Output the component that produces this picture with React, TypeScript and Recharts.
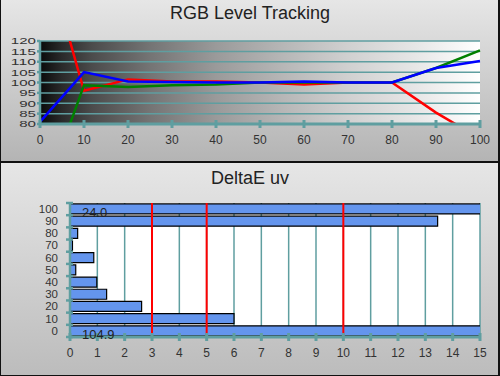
import React from 'react';
import {
  LineChart,
  Line,
  BarChart,
  Bar,
  XAxis,
  YAxis,
  CartesianGrid,
  ReferenceLine,
  LabelList,
} from 'recharts';

// stimulus levels (% of white)
const levels = [0, 10, 20, 30, 40, 50, 60, 70, 80, 90, 100];

// RGB tracking (%)
const redLevel = [171, 96, 101.5, 100.5, 100.5, 100, 99, 100, 100, 85.5, 73];
const greenLevel = [40, 98.7, 97.8, 98.7, 99, 100, 100, 100, 100, 107, 115.5];
const blueLevel = [81, 105, 100.5, 100.2, 100, 100, 100.5, 100, 100, 107, 110.4];

// DeltaE uv per level
const deltaE = [104.9, 6.0, 2.62, 1.34, 0.98, 0.21, 0.87, 0.09, 0.28, 13.45, 24.0];

const trackingTicks = [80, 85, 90, 95, 100, 105, 110, 115, 120];
const levelTicks = [0, 10, 20, 30, 40, 50, 60, 70, 80, 90, 100];
const deltaTicks = [0, 1, 2, 3, 4, 5, 6, 7, 8, 9, 10, 11, 12, 13, 14, 15];
const deltaLimits = [3, 5, 10];

const TEAL = '#5f9ea0';
const FONT = '"Liberation Sans", Arial, sans-serif';
const DELTA_MAX = 15;

const trackingData = levels.map((level, i) => ({
  level,
  red: redLevel[i],
  green: greenLevel[i],
  blue: blueLevel[i],
}));

const deltaData = levels.map((level, i) => ({
  level: String(level),
  de: deltaE[i],
}));

// bottom chart geometry (used for the band boundary ticks)
const BAR_H = 214;
const BAR_TOP = 41;
const BAR_BOTTOM = 39;
const BAND_HALF = (BAR_H - BAR_TOP - BAR_BOTTOM) / levels.length / 2;

// tick mark crossing the axis line + label under it
const StraddleTick = (props: any) => {
  const { x, y, payload } = props;
  return (
    <g>
      <line x1={x} y1={y - 4} x2={x} y2={y + 4} stroke={TEAL} strokeWidth={3} />
      <text x={x} y={y + 20} textAnchor="middle" fontSize={12} fill="#333" fontFamily={FONT}>
        {payload.value}
      </text>
    </g>
  );
};

// crowded percent labels, drawn wide like the original
const PercentTick = (props: any) => {
  const { x, y, payload } = props;
  const s = String(payload.value);
  return (
    <text
      x={x}
      y={y}
      dy="0.38em"
      textAnchor="end"
      fontSize={9}
      fill="#333"
      fontFamily={FONT}
      textLength={s.length * 8.4}
      lengthAdjust="spacingAndGlyphs"
    >
      {s}
    </text>
  );
};

// category label centred in band, tick marks on band boundaries
const BandTick = (props: any) => {
  const { x, y, payload, index } = props;
  const axisX = x + 12;
  return (
    <g>
      <line x1={axisX - 4} y1={y - BAND_HALF} x2={axisX + 3} y2={y - BAND_HALF} stroke={TEAL} strokeWidth={2.5} />
      {index === 0 && (
        <line x1={axisX - 4} y1={y + BAND_HALF} x2={axisX + 3} y2={y + BAND_HALF} stroke={TEAL} strokeWidth={2.5} />
      )}
      <text x={x} y={y} dy="0.36em" textAnchor="end" fontSize={10.5} fill="#333" fontFamily={FONT}
        textLength={String(payload.value).length * 6.4} lengthAdjust="spacingAndGlyphs">
        {payload.value}
      </text>
    </g>
  );
};

// value printed only on bars running off the scale
const OverflowLabel = (props: any) => {
  const { x, y, height, value } = props;
  if (value <= DELTA_MAX) return null;
  return (
    <text x={x + 12} y={y + height + 3} fontSize={13} fill="#222" fontFamily={FONT}>
      {Number(value).toFixed(1)}
    </text>
  );
};

const titleStyle = (top: number): React.CSSProperties => ({
  position: 'absolute',
  left: 0,
  top,
  width: 500,
  textAlign: 'center',
  fontFamily: FONT,
  fontSize: 18,
  lineHeight: '18px',
  color: '#222',
});

export default function App() {
  return (
    <div style={{ position: 'absolute', left: 0, top: 0, width: 500, height: 376, background: '#111' }}>
      <div
        style={{
          position: 'absolute',
          left: 1,
          top: 0,
          width: 497,
          height: 161,
          background: 'linear-gradient(#e6e6e6, #b4b4b4)',
        }}
      />
      <div
        style={{
          position: 'absolute',
          left: 1,
          top: 163,
          width: 497,
          height: 212,
          background: 'linear-gradient(#e6e6e6, #bcbcbc)',
        }}
      />
      <div style={titleStyle(4)}>RGB Level Tracking</div>
      <div style={titleStyle(169)}>DeltaE uv</div>

      <div style={{ position: 'absolute', left: 0, top: 0 }}>
        <LineChart
          width={500}
          height={163}
          data={trackingData}
          margin={{ top: 41, right: 20, bottom: 9, left: 5 }}
        >
          <defs>
            <linearGradient id="stepGrad" x1="0" y1="0" x2="1" y2="0">
              <stop offset="0" stopColor="#0a0a0a" />
              <stop offset="0.05" stopColor="#2a2a2a" />
              <stop offset="0.12" stopColor="#4c4c4c" />
              <stop offset="0.25" stopColor="#747474" />
              <stop offset="0.4" stopColor="#9a9a9a" />
              <stop offset="0.55" stopColor="#b6b6b6" />
              <stop offset="0.7" stopColor="#d0d0d0" />
              <stop offset="0.85" stopColor="#e6e6e6" />
              <stop offset="1" stopColor="#ffffff" />
            </linearGradient>
          </defs>
          <CartesianGrid
            vertical={false}
            stroke={TEAL}
            strokeWidth={1.5}
            fill="url(#stepGrad)"
            fillOpacity={1}
          />
          <XAxis
            type="number"
            dataKey="level"
            domain={[0, 100]}
            ticks={levelTicks}
            interval={0}
            height={30}
            tickSize={0}
            tickMargin={0}
            tickLine={false}
            axisLine={{ stroke: TEAL, strokeWidth: 3 }}
            tick={<StraddleTick />}
          />
          <YAxis
            type="number"
            domain={[80, 120]}
            ticks={trackingTicks}
            interval={0}
            allowDataOverflow
            width={35}
            tickSize={3}
            tickMargin={1}
            tickLine={{ stroke: TEAL, strokeWidth: 2.5 }}
            axisLine={{ stroke: TEAL, strokeWidth: 2.5 }}
            tick={<PercentTick />}
          />
          <Line dataKey="red" stroke="#ff0000" strokeWidth={2.5} dot={false} isAnimationActive={false} />
          <Line dataKey="green" stroke="#008000" strokeWidth={2.5} dot={false} isAnimationActive={false} />
          <Line dataKey="blue" stroke="#0000ff" strokeWidth={2.5} dot={false} isAnimationActive={false} />
        </LineChart>
      </div>

      <div style={{ position: 'absolute', left: 0, top: 162 }}>
        <BarChart
          width={500}
          height={BAR_H}
          data={deltaData}
          layout="vertical"
          barCategoryGap="8%"
          margin={{ top: BAR_TOP, right: 20, bottom: BAR_BOTTOM - 30, left: 40 }}
        >
          <CartesianGrid horizontal={false} stroke={TEAL} strokeWidth={1.5} fill="#ffffff" fillOpacity={1} />
          <XAxis
            type="number"
            domain={[0, DELTA_MAX]}
            ticks={deltaTicks}
            interval={0}
            allowDataOverflow
            height={30}
            tickSize={0}
            tickMargin={0}
            tickLine={false}
            axisLine={{ stroke: TEAL, strokeWidth: 3 }}
            tick={<StraddleTick />}
          />
          <YAxis
            type="category"
            dataKey="level"
            reversed
            interval={0}
            width={30}
            tickSize={0}
            tickMargin={12}
            tickLine={false}
            axisLine={{ stroke: TEAL, strokeWidth: 2.5 }}
            tick={<BandTick />}
          />
          <Bar dataKey="de" fill="#6495ed" stroke="#000" strokeWidth={1.2} isAnimationActive={false}>
            <LabelList dataKey="de" content={<OverflowLabel />} />
          </Bar>
          {deltaLimits.map((v) => (
            <ReferenceLine key={v} x={v} stroke="#ff0000" strokeWidth={2} />
          ))}
        </BarChart>
      </div>
    </div>
  );
}
